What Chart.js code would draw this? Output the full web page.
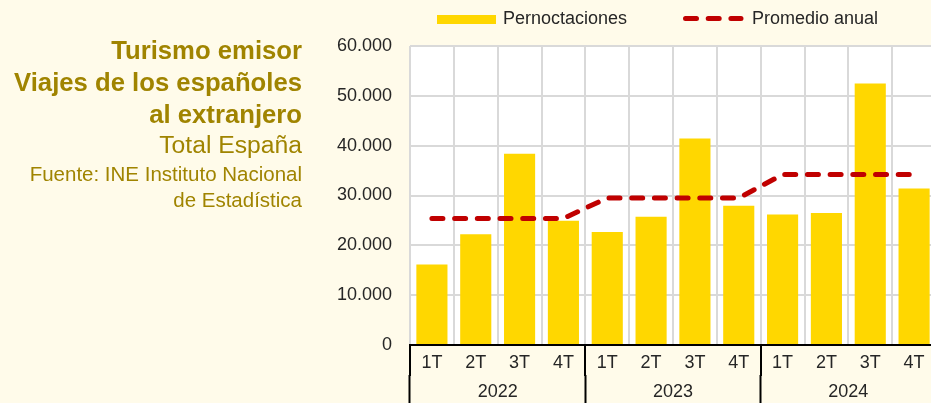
<!DOCTYPE html>
<html lang="es">
<head>
<meta charset="utf-8">
<title>Turismo emisor</title>
<script src="https://cdn.jsdelivr.net/npm/chart.js@4/dist/chart.umd.min.js"></script>
<style>
    html, body {
        margin: 0;
        padding: 0;
        width: 931px;
        height: 403px;
        overflow: hidden;
        background: #fffbea;
        font-family: "Liberation Sans", Arial, sans-serif;
    }
    #grafico {
        position: absolute;
        left: 0;
        top: 0;
    }
    .titulo {
        position: absolute;
        left: 0;
        width: 302px;
        text-align: right;
        color: #a08400;
        white-space: nowrap;
    }
    .t1 { top: 34px; font-size: 25.7px; font-weight: bold; line-height: 32px; }
    .t2 { top: 130px; font-size: 24.7px; line-height: 30px; }
    .t3 { top: 161px; font-size: 20.5px; line-height: 26px; }
</style>
</head>
<body>
<canvas id="grafico" width="940" height="403"></canvas>
<div class="titulo t1">Turismo emisor<br>Viajes de los españoles<br>al extranjero</div>
<div class="titulo t2">Total España</div>
<div class="titulo t3">Fuente: INE Instituto Nacional<br>de Estadística</div>

<script>
// datos
const quarters = ["1T", "2T", "3T", "4T", "1T", "2T", "3T", "4T", "1T", "2T", "3T", "4T"];
const years = ["2022", "2023", "2024"];
const pernoctaciones = [16150, 22200, 38400, 24950, 22700, 25750, 41450, 27950, 26200, 26500, 52450, 31400];
const promedioAnual = [25400, 25400, 25400, 25400, 29500, 29500, 29500, 29500, 34200, 34200, 34200, 34200];

const FONT = "'Liberation Sans', Arial, sans-serif";
const TEXT_COLOR = "#262626";
const GRID_COLOR = "#d9d9d9";

function formatMiles(v) {
    return String(v).replace(/\B(?=(\d{3})+(?!\d))/g, ".");
}

// fondo blanco del area de trazado
const fondoPlugin = {
    id: 'fondo',
    beforeDraw(chart) {
        let a = chart.chartArea;
        let ctx = chart.ctx;
        ctx.save();
        ctx.fillStyle = "#ffffff";
        ctx.fillRect(a.left, a.top, a.right - a.left, a.bottom - a.top);
        ctx.restore();
    }
};

// leyenda dibujada a mano, arriba
const leyendaPlugin = {
    id: 'leyenda',
    afterDraw(chart) {
        let ctx = chart.ctx;
        let barras = chart.data.datasets[1];
        let linea = chart.data.datasets[0];
        ctx.save();
        ctx.fillStyle = barras.backgroundColor;
        ctx.fillRect(437, 15, 59, 9);
        ctx.font = "18px " + FONT;
        ctx.fillStyle = TEXT_COLOR;
        ctx.textBaseline = "middle";
        ctx.fillText(barras.label, 503, 19);

        ctx.strokeStyle = linea.borderColor;
        ctx.lineWidth = linea.borderWidth;
        ctx.lineCap = "round";
        ctx.setLineDash(linea.borderDash);
        ctx.beginPath();
        ctx.moveTo(685.5, 18.5);
        ctx.lineTo(741, 18.5);
        ctx.stroke();
        ctx.setLineDash([]);
        ctx.fillText(linea.label, 752, 19);
        ctx.restore();
    }
};

const chart = new Chart(document.getElementById('grafico'), {
    type: 'bar',
    data: {
        labels: quarters,
        datasets: [
            {
                type: 'line',
                label: "Promedio anual",
                data: promedioAnual,
                borderColor: "#c00000",
                borderWidth: 5,
                borderDash: [11, 11.7],
                borderCapStyle: 'round',
                pointRadius: 0,
                tension: 0,
                fill: false,
                order: 0
            },
            {
                label: "Pernoctaciones",
                data: pernoctaciones,
                backgroundColor: "#ffd700",
                barPercentage: 0.71,
                categoryPercentage: 1,
                order: 1
            }
        ]
    },
    options: {
        responsive: false,
        animation: false,
        layout: { padding: { left: 330, right: 4, top: 46, bottom: 0 } },
        plugins: {
            legend: { display: false },
            tooltip: { enabled: false }
        },
        scales: {
            x: {
                type: 'category',
                position: 'bottom',
                weight: 0,
                offset: true,
                grid: {
                    offset: true,
                    color: GRID_COLOR,
                    lineWidth: 2,
                    drawTicks: true,
                    tickLength: 31,
                    tickWidth: 2,
                    tickColor: (c) => (c.index !== undefined && c.index % 4 === 0) ? "#000000" : "rgba(0,0,0,0)"
                },
                border: { display: true, color: "#000000", width: 2 },
                ticks: {
                    autoSkip: false,
                    maxRotation: 0,
                    padding: -24,
                    color: TEXT_COLOR,
                    font: { family: FONT, size: 18 }
                },
                afterFit: (scale) => { scale.height = 30; }
            },
            x2: {
                type: 'category',
                position: 'bottom',
                weight: 1,
                labels: years,
                offset: true,
                grid: {
                    offset: true,
                    drawOnChartArea: false,
                    drawTicks: true,
                    tickLength: 28,
                    tickWidth: 2,
                    tickColor: "#000000"
                },
                border: { display: false },
                ticks: {
                    autoSkip: false,
                    maxRotation: 0,
                    padding: -22,
                    color: TEXT_COLOR,
                    font: { family: FONT, size: 18 }
                },
                afterFit: (scale) => { scale.height = 28; }
            },
            y: {
                min: 0,
                max: 60000,
                grid: {
                    color: GRID_COLOR,
                    lineWidth: 2,
                    drawTicks: false
                },
                border: { display: false },
                ticks: {
                    stepSize: 10000,
                    padding: 18,
                    color: TEXT_COLOR,
                    font: { family: FONT, size: 18 },
                    callback: (v) => formatMiles(v)
                },
                afterFit: (scale) => { scale.width = 80; }
            }
        }
    },
    plugins: [fondoPlugin, leyendaPlugin]
});
</script>
</body>
</html>
